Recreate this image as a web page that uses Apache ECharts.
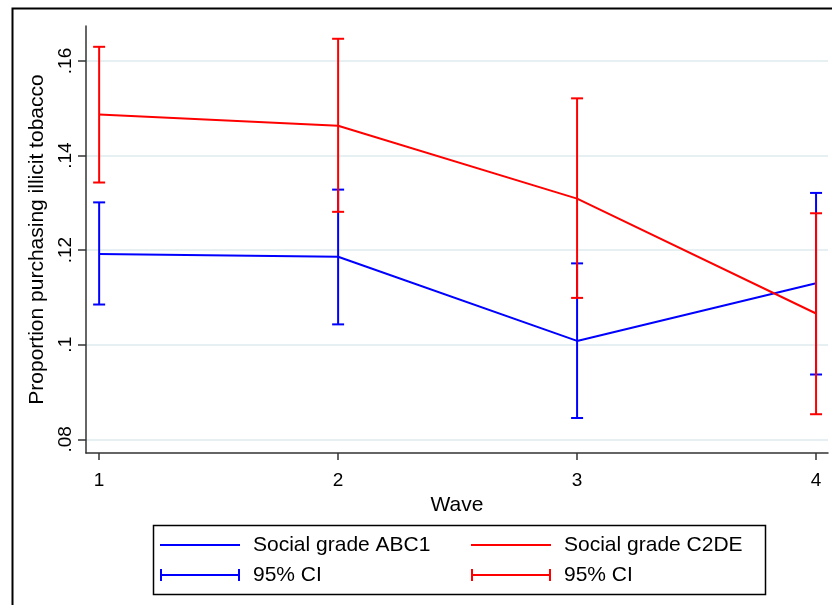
<!DOCTYPE html>
<html lang="en" style="height: 100%">
<head>
<meta charset="utf-8">
<title>Illicit tobacco by social grade</title>
</head>
<body style="height: 100%; margin: 0; background: #fff">
<div id="container" style="width: 832px; height: 605px"></div>

<script type="text/javascript" src="https://cdn.jsdelivr.net/npm/echarts@6/dist/echarts.min.js"></script>

<script type="text/javascript">
var dom = document.getElementById('container');
var myChart = echarts.init(dom);

// values
var waves = [1, 2, 3, 4];
var abc1Mean = [0.1192, 0.1186, 0.1008, 0.1130];
var abc1Low  = [0.1085, 0.1043, 0.0845, 0.0937];
var abc1High = [0.1301, 0.1328, 0.1172, 0.1321];
var c2deMean = [0.1487, 0.1463, 0.1309, 0.1066];
var c2deLow  = [0.1343, 0.1281, 0.1099, 0.0853];
var c2deHigh = [0.1630, 0.1647, 0.1521, 0.1278];
var yTicks = [0.08, 0.1, 0.12, 0.14, 0.16];
var yTickLabels = ['.08', '.1', '.12', '.14', '.16'];

var font = 'Liberation Sans, Arial, sans-serif';
// legend icons: plain line, and a capped bar for the CI
var lineIcon = 'path://M0,5h80v2h-80z';
var ciIcon = 'path://M0,0h2v5h76v-5h2v12h-2v-5h-76v5h-2z';

function pairs(ys) {
    return waves.map(function (w, i) { return [w, ys[i]]; });
}
function ciData(lo, hi) {
    return waves.map(function (w, i) { return [w, lo[i], hi[i]]; });
}

// vertical bar with caps
function renderCI(params, api) {
    var x = api.value(0);
    var lo = api.coord([x, api.value(1)]);
    var hi = api.coord([x, api.value(2)]);
    var half = 6;
    var style = { stroke: api.visual('color'), lineWidth: 2 };
    return {
        type: 'group',
        children: [
            { type: 'line', shape: { x1: lo[0], y1: lo[1], x2: hi[0], y2: hi[1] }, style: style },
            { type: 'line', shape: { x1: lo[0] - half, y1: lo[1], x2: lo[0] + half, y2: lo[1] }, style: style },
            { type: 'line', shape: { x1: hi[0] - half, y1: hi[1], x2: hi[0] + half, y2: hi[1] }, style: style }
        ]
    };
}

var legendText = {
    fontFamily: font,
    fontSize: 21,
    color: '#000',
    lineHeight: 22,
    padding: [0, 0, 0, 8]
};
function ciName(name) {
    return (name === 'ci1' || name === 'ci2') ? '95% CI' : name;
}

var option = {
    animation: false,
    backgroundColor: '#fff',
    graphic: [
        { type: 'rect', left: 10, top: 6, shape: { width: 900, height: 700 },
          style: { fill: 'none', stroke: '#000', lineWidth: 2 }, silent: true },
        { type: 'rect', left: 151, top: 523, shape: { width: 612, height: 69 },
          style: { fill: 'none', stroke: '#000', lineWidth: 1.5 }, silent: true }
    ],
    grid: { left: 86, top: 26, right: 4, bottom: 152 },
    legend: [
        {
            orient: 'vertical', left: 160, top: 534, itemGap: 8, padding: 0,
            itemWidth: 80, itemHeight: 12, selectedMode: false,
            textStyle: legendText, formatter: ciName,
            data: [{ name: 'Social grade ABC1', icon: lineIcon }, { name: 'ci1', icon: ciIcon }]
        },
        {
            orient: 'vertical', left: 471, top: 534, itemGap: 8, padding: 0,
            itemWidth: 80, itemHeight: 12, selectedMode: false,
            textStyle: legendText, formatter: ciName,
            data: [{ name: 'Social grade C2DE', icon: lineIcon }, { name: 'ci2', icon: ciIcon }]
        }
    ],
    xAxis: {
        type: 'value',
        min: 0.945,
        max: 4.05,
        name: 'Wave',
        nameLocation: 'middle',
        nameGap: 36,
        nameTextStyle: { fontFamily: font, fontSize: 21, color: '#000' },
        axisLine: { lineStyle: { color: '#333', width: 1.5 } },
        axisTick: { length: 7, customValues: waves, lineStyle: { color: '#333', width: 1.5 } },
        axisLabel: { customValues: waves, margin: 18, fontFamily: font, fontSize: 19, color: '#000' },
        splitLine: { show: false }
    },
    yAxis: {
        type: 'value',
        min: 0.0771,
        max: 0.1674,
        name: 'Proportion purchasing illicit tobacco',
        nameLocation: 'middle',
        nameGap: 36,
        nameRotate: 90,
        nameTextStyle: { fontFamily: font, fontSize: 21, color: '#000' },
        axisLine: { show: true, lineStyle: { color: '#333', width: 1.5 } },
        axisTick: { show: true, length: 8, customValues: yTicks, lineStyle: { color: '#333', width: 1.5 } },
        axisLabel: {
            customValues: yTicks,
            rotate: 90,
            margin: 11,
            fontFamily: font,
            fontSize: 19,
            color: '#000',
            formatter: function (v) {
                var i = yTicks.findIndex(function (t) { return Math.abs(t - v) < 1e-6; });
                return i >= 0 ? yTickLabels[i] : '';
            }
        },
        splitLine: { show: true, lineStyle: { color: '#e6eff2', width: 2 } }
    },
    series: [
        {
            name: 'Social grade ABC1', type: 'line', data: pairs(abc1Mean),
            symbol: 'none', color: '#0000ff', lineStyle: { width: 2, color: '#0000ff' }, z: 2
        },
        {
            name: 'ci1', type: 'custom', data: ciData(abc1Low, abc1High),
            renderItem: renderCI, itemStyle: { color: '#0000ff' }, z: 3,
            encode: { x: 0, y: [1, 2] }
        },
        {
            name: 'Social grade C2DE', type: 'line', data: pairs(c2deMean),
            symbol: 'none', color: '#ff0000', lineStyle: { width: 2, color: '#ff0000' }, z: 4
        },
        {
            name: 'ci2', type: 'custom', data: ciData(c2deLow, c2deHigh),
            renderItem: renderCI, itemStyle: { color: '#ff0000' }, z: 5,
            encode: { x: 0, y: [1, 2] }
        }
    ]
};

if (option && typeof option === 'object') {
    myChart.setOption(option);
}

window.addEventListener('resize', myChart.resize);
</script>
</body>
</html>
